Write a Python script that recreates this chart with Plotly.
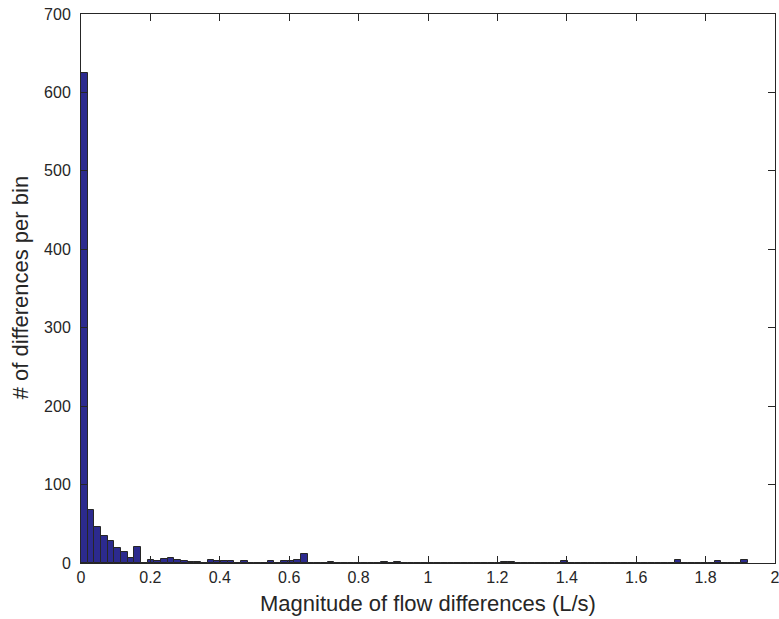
import plotly.graph_objects as go

# Histogram data (100 equal bins from 0 to ~1.922 L/s)
bin_min = 0.0
bin_max = 1.922
counts = [
    625, 67, 46, 34, 28, 19, 14, 7, 21, 0,
    4, 2, 5, 6, 4, 3, 1, 1, 0, 4,
    3, 2, 2, 0, 3, 0, 0, 0, 2, 0,
    3, 3, 4, 12, 0, 0, 0, 1, 0, 0,
    0, 0, 0, 0, 0, 1, 0, 1, 0, 0,
    0, 0, 0, 0, 0, 0, 0, 0, 0, 0,
    0, 0, 0, 1, 1, 0, 0, 0, 0, 0,
    0, 0, 2, 0, 0, 0, 0, 0, 0, 0,
    0, 0, 0, 0, 0, 0, 0, 0, 0, 4,
    0, 0, 0, 0, 0, 3, 0, 0, 0, 4,
]
x_ticks = [0, 0.2, 0.4, 0.6, 0.8, 1, 1.2, 1.4, 1.6, 1.8, 2]
x_tick_labels = ["0", "0.2", "0.4", "0.6", "0.8", "1", "1.2", "1.4", "1.6", "1.8", "2"]
y_ticks = [0, 100, 200, 300, 400, 500, 600, 700]
x_title = "Magnitude of flow differences (L/s)"
y_title = "# of differences per bin"

n = len(counts)
w = (bin_max - bin_min) / n
centers = [bin_min + (i + 0.5) * w for i in range(n)]

FONT = "Liberation Sans, Arial, sans-serif"
INK = "#262626"

fig = go.Figure(go.Bar(
    x=centers, y=counts, width=w,
    marker=dict(color="#2c2a8e", line=dict(color=INK, width=1)),
))

axis_common = dict(
    showline=True, linecolor=INK, linewidth=1, mirror="allticks",
    ticks="inside", ticklen=7, tickcolor=INK, tickwidth=1,
    showgrid=False, zeroline=False, automargin=False,
    ticklabeloverflow="allow",
    tickfont=dict(family=FONT, size=16, color=INK),
)

fig.update_layout(
    width=779, height=619,
    margin=dict(l=81, r=4, t=14, b=56),
    paper_bgcolor="white", plot_bgcolor="white",
    bargap=0, showlegend=False,
    xaxis=dict(range=[0, 2.0000001], tickvals=x_ticks, ticktext=x_tick_labels, **axis_common),
    yaxis=dict(range=[0, 700], tickvals=y_ticks, ticklabelstandoff=6, **axis_common),
    annotations=[
        dict(text=x_title, xref="paper", yref="paper", x=0.5, y=-0.074,
             xanchor="center", yanchor="middle", showarrow=False,
             font=dict(family=FONT, size=22, color=INK)),
        dict(text=y_title, xref="paper", yref="paper", x=-0.086, y=0.501,
             xanchor="center", yanchor="middle", showarrow=False, textangle=-90,
             font=dict(family=FONT, size=22, color=INK)),
    ],
)

fig.write_html(
    "out.html",
    config={"displayModeBar": False},
    post_script="document.body.style.margin='0';document.body.style.overflow='hidden';",
)
